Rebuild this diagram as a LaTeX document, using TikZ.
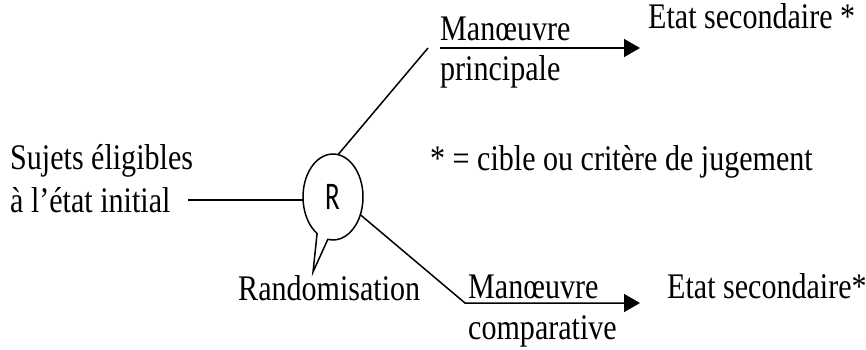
\documentclass[tikz,border=0pt]{standalone}
\usepackage{graphicx}
\usepackage{fontspec}
\setmainfont[FakeStretch=0.835]{Liberation Serif}
\newfontfamily\labelsans{Carlito}
\usetikzlibrary{arrows.meta,shapes.geometric,calc}
\begin{document}
\begin{tikzpicture}[x=1pt,y=-1pt,
  txt/.style={font=\fontsize{36}{43}\selectfont, inner sep=0pt, anchor=base west},
  link/.style={line width=1.5pt},
  arrowlink/.style={link, -{Triangle[length=16pt,width=18pt]}}]
\useasboundingbox (0,0) rectangle (866,349);

% starting population
\node[txt] (s1) at (10,169) {Sujets éligibles};
\node[txt] (s2) at (10,212) {à l'état initial};

% randomisation bubble: an ellipse with a speech tail
\node[ellipse, minimum width=60pt, minimum height=86pt, inner sep=0pt]
  (R) at (333,197) {\scalebox{1}[1.45]{\fontsize{27}{30}\labelsans R}};
\coordinate (tip) at (313,272);
\draw[link, line join=miter]
  ($(R.center)+({30*cos(122)},{43*sin(122)})$)
  arc[start angle=122, end angle=460, x radius=30, y radius=43]
  -- (tip) -- cycle;
\node[txt] (rand) at (238,300) {Randomisation};

% entry line
\coordinate (s2r) at (188,200);
\draw[link] (s2r) -- (s2r -| R.west);

% upper arm
\coordinate (a1) at (428,48);
\coordinate (p0) at (440,48);
\coordinate (p1) at (640,48);
\draw[link] (R.83) -- (a1);
\draw[arrowlink] (p0) -- (p1);
\node[txt] (m1) at (440,40) {Manœuvre};
\node[txt] (pp) at (440,80) {principale};
\node[txt] (e1) at (648,28) {Etat secondaire *};

% footnote
\node[txt] (note) at (430,170) {* = cible ou critère de jugement};

% lower arm
\coordinate (b1) at (465,303);
\coordinate (b2) at (640,303);
\draw[arrowlink, line join=miter] (R.-33) -- (b1) -- (b2);
\node[txt] (m2) at (468,298) {Manœuvre};
\node[txt] (cp) at (468,339) {comparative};
\node[txt] (e2) at (667,298) {Etat secondaire*};
\end{tikzpicture}
\end{document}
